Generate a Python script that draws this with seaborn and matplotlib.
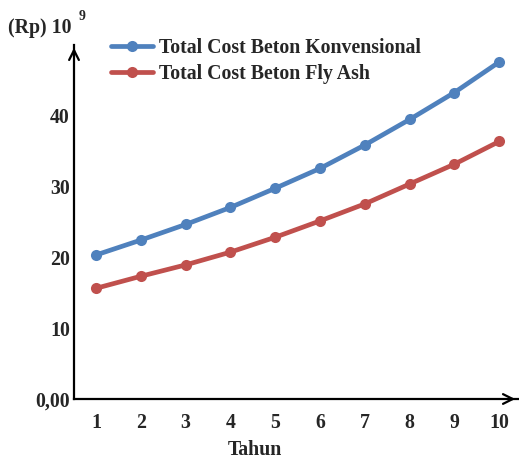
import matplotlib
matplotlib.use("Agg")
import matplotlib.pyplot as plt
import seaborn as sns
import pandas as pd
from matplotlib.ticker import FuncFormatter
from matplotlib.lines import Line2D

tahun = [1, 2, 3, 4, 5, 6, 7, 8, 9, 10]
beton_konvensional = [20.3, 22.4, 24.6, 27.0, 29.7, 32.5, 35.8, 39.4, 43.2, 47.5]
beton_fly_ash = [15.6, 17.3, 18.9, 20.7, 22.8, 25.1, 27.5, 30.3, 33.1, 36.3]
series_names = ["Total Cost Beton Konvensional", "Total Cost Beton Fly Ash"]
y_ticks = [0, 10, 20, 30, 40]

df = pd.DataFrame({
    "Tahun": tahun * 2,
    "Biaya": beton_konvensional + beton_fly_ash,
    "Seri": [series_names[0]] * len(tahun) + [series_names[1]] * len(tahun),
})

sns.set_style("white")
plt.rcParams["font.family"] = ["Liberation Serif", "DejaVu Serif"]
plt.rcParams["font.weight"] = "bold"
FS = 14.3

fig = plt.figure(figsize=(5.19, 4.62), dpi=100)
W, H = 519, 462
x0, x1 = 74, 518
ytop, ybot = 45, 399
ax = fig.add_axes([x0 / W, 1 - ybot / H, (x1 - x0) / W, (ybot - ytop) / H])

palette = {series_names[0]: "#4F81BD", series_names[1]: "#C0504D"}
sns.lineplot(data=df, x="Tahun", y="Biaya", hue="Seri", palette=palette,
             marker="o", markersize=8, markeredgewidth=0, linewidth=3.4,
             ax=ax, legend=False)

ax.set_xlim(0.51, 10.42)
ax.set_ylim(0, 49.9)
ax.set_xticks(tahun)
ax.set_yticks(y_ticks)
ax.yaxis.set_major_formatter(FuncFormatter(lambda v, p: "0,00" if v == 0 else f"{int(v)}"))
ax.tick_params(axis="both", length=0, labelsize=FS)
ax.tick_params(axis="x", pad=10)
ax.tick_params(axis="y", pad=3)
for lab in ax.get_xticklabels() + ax.get_yticklabels():
    lab.set_fontweight("bold")

for s in ["top", "right"]:
    ax.spines[s].set_visible(False)
for s in ["left", "bottom"]:
    ax.spines[s].set_color("black")
    ax.spines[s].set_linewidth(1.6)

# arrow heads at the ends of both axes
ax.annotate("", xy=(1.0, 0), xytext=(0.97, 0), xycoords="axes fraction",
            arrowprops=dict(arrowstyle="->,head_length=0.7,head_width=0.35", lw=1.6, color="black"))
ax.annotate("", xy=(0, 1.0), xytext=(0, 0.96), xycoords="axes fraction",
            arrowprops=dict(arrowstyle="->,head_length=0.7,head_width=0.35", lw=1.6, color="black"))

ax.set_xlabel("")
ax.set_ylabel("")
fig.text(255 / W, 1 - 450 / H, "Tahun", fontsize=FS, fontweight="bold", va="center", ha="center")
fig.text(8 / W, 1 - 28 / H, "(Rp) 10", fontsize=FS, fontweight="bold", va="center", ha="left")
fig.text(79 / W, 1 - 16 / H, "9", fontsize=10, fontweight="bold", va="center", ha="left")

# legend entries
handles = [Line2D([], [], color=palette[n], lw=3.4, marker="o", markersize=8, markeredgewidth=0)
           for n in series_names]
leg = ax.legend(handles, series_names, loc="upper left",
                bbox_to_anchor=(111 / W, 1 - 38 / H), bbox_transform=fig.transFigure,
                borderaxespad=0, borderpad=0,
                frameon=False, prop={"size": FS, "weight": "bold"},
                handlelength=2.1, handletextpad=0.3, labelspacing=0.3)

fig.savefig("out.png", dpi=100)
